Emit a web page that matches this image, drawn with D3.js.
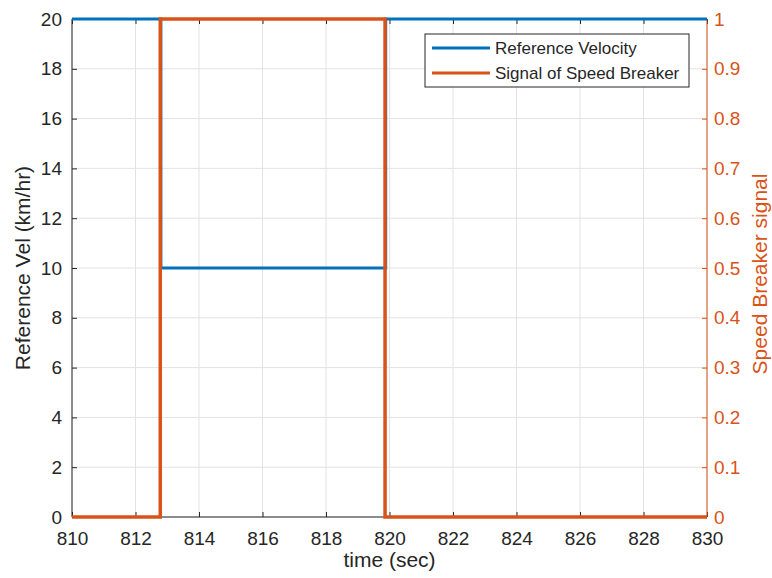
<!DOCTYPE html>
<html>
<head>
<meta charset="utf-8">
<script src="https://cdn.jsdelivr.net/npm/d3@7"></script>
<style>
  html, body { margin: 0; padding: 0; background: #fff; }
  svg { display: block; font-family: "Liberation Sans", Arial, Helvetica, sans-serif; }
</style>
</head>
<body>
<svg id="chart" width="772" height="578"></svg>
<script>
// ---- data ----
const timeRef = [810, 812.8, 812.8, 819.88, 819.88, 830];
const velRef = [20, 20, 10, 10, 20, 20];
const timeSig = [810, 812.78, 812.78, 819.86, 819.86, 830];
const sigVal = [0, 0, 1, 1, 0, 0];
const xTicks = [810, 812, 814, 816, 818, 820, 822, 824, 826, 828, 830];
const yLeftTicks = [0, 2, 4, 6, 8, 10, 12, 14, 16, 18, 20];
const yRightTicks = [0, 0.1, 0.2, 0.3, 0.4, 0.5, 0.6, 0.7, 0.8, 0.9, 1];
const seriesNames = ["Reference Velocity", "Signal of Speed Breaker"];

const blue = "#0072BD", orange = "#D95319", dark = "#262626", grid = "#e3e3e3";
const svg = d3.select("#chart");
const L = 72, R = 707, T = 19, B = 517;

const x = d3.scaleLinear().domain([810, 830]).range([L, R]);
const yL = d3.scaleLinear().domain([0, 20]).range([B, T]);
const yR = d3.scaleLinear().domain([0, 1]).range([B, T]);

// grid
const g = svg.append("g");
g.selectAll(".gx").data(xTicks).join("line")
  .attr("x1", d => x(d)).attr("x2", d => x(d)).attr("y1", T).attr("y2", B)
  .attr("stroke", grid).attr("stroke-width", 1);
g.selectAll(".gy").data(yLeftTicks).join("line")
  .attr("x1", L).attr("x2", R).attr("y1", d => yL(d)).attr("y2", d => yL(d))
  .attr("stroke", grid).attr("stroke-width", 1);

// axes
const fs = 19;
const ax = svg.append("g").attr("transform", `translate(0,${B})`)
  .call(d3.axisBottom(x).tickValues(xTicks).tickSize(-5).tickPadding(15).tickFormat(d3.format("d")));
const axTop = svg.append("g").attr("transform", `translate(0,${T})`)
  .call(d3.axisTop(x).tickValues(xTicks).tickSize(-5).tickFormat(""));
const ayL = svg.append("g").attr("transform", `translate(${L},0)`)
  .call(d3.axisLeft(yL).tickValues(yLeftTicks).tickSize(-5).tickPadding(10).tickFormat(d3.format("d")));
const ayR = svg.append("g").attr("transform", `translate(${R},0)`)
  .call(d3.axisRight(yR).tickValues(yRightTicks).tickSize(-5).tickPadding(7).tickFormat(d => d === 0 ? "0" : d === 1 ? "1" : d3.format(".1f")(d)));
[ax, axTop, ayL].forEach(a => {
  a.selectAll("path, line").attr("stroke", dark);
  a.selectAll("text").attr("fill", dark).style("font-size", fs + "px").style("font-family", "Liberation Sans, Arial, sans-serif");
});
ayR.selectAll("path, line").attr("stroke", orange);
ayR.selectAll("text").attr("fill", orange).style("font-size", fs + "px").style("font-family", "Liberation Sans, Arial, sans-serif");
[ax, axTop, ayL, ayR].forEach(a => a.select(".domain").attr("d", null));
// box
svg.append("line").attr("x1", L).attr("x2", R).attr("y1", B).attr("y2", B).attr("stroke", dark);
svg.append("line").attr("x1", L).attr("x2", R).attr("y1", T).attr("y2", T).attr("stroke", dark);
svg.append("line").attr("x1", L).attr("x2", L).attr("y1", T).attr("y2", B).attr("stroke", dark);
svg.append("line").attr("x1", R).attr("x2", R).attr("y1", T).attr("y2", B).attr("stroke", orange);

// lines
const refData = timeRef.map((t, i) => [t, velRef[i]]);
const sigData = timeSig.map((t, i) => [t, sigVal[i]]);
svg.append("path").datum(refData)
  .attr("d", d3.line().x(d => x(d[0])).y(d => yL(d[1])))
  .attr("fill", "none").attr("stroke", blue).attr("stroke-width", 3);
svg.append("path").datum(sigData)
  .attr("d", d3.line().x(d => x(d[0])).y(d => yR(d[1])))
  .attr("fill", "none").attr("stroke", orange).attr("stroke-width", 3.5);

// axis labels
svg.append("text").attr("x", (L + R) / 2).attr("y", 567).attr("text-anchor", "middle")
  .attr("fill", dark).style("font-size", "21px").text("time (sec)");
svg.append("text").attr("transform", `translate(30,${(T + B) / 2}) rotate(-90)`).attr("text-anchor", "middle")
  .attr("fill", dark).style("font-size", "21px").text("Reference Vel (km/hr)");
svg.append("text").attr("transform", `translate(767,${(T + B) / 2 + 6}) rotate(-90)`).attr("text-anchor", "middle")
  .attr("fill", orange).style("font-size", "21px").text("Speed Breaker signal");

// legend
const lg = svg.append("g");
lg.append("rect").attr("x", 425).attr("y", 34).attr("width", 264).attr("height", 53)
  .attr("fill", "#fff").attr("stroke", dark).attr("stroke-width", 1);
const lcol = [blue, orange];
seriesNames.forEach((n, i) => {
  const yy = 48 + i * 25;
  lg.append("line").attr("x1", 432).attr("x2", 490).attr("y1", yy).attr("y2", yy)
    .attr("stroke", lcol[i]).attr("stroke-width", 3);
  lg.append("text").attr("x", 495).attr("y", yy + 6).attr("fill", dark)
    .style("font-size", "17px").text(n);
});
</script>
</body>
</html>
